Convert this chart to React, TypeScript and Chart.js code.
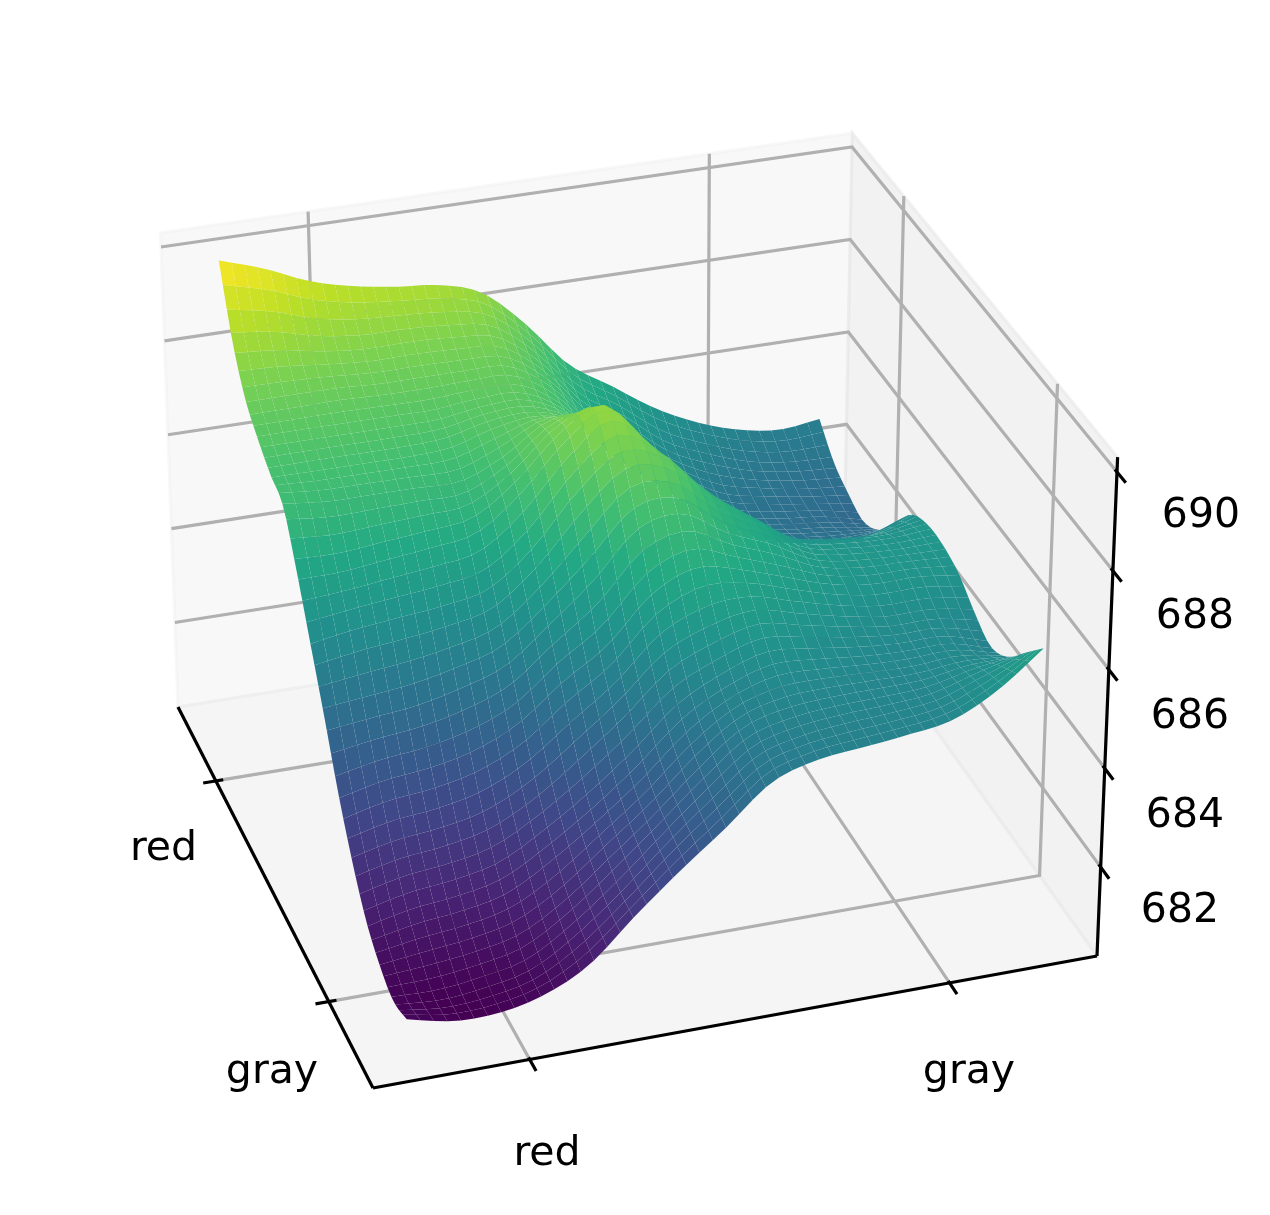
import React, { useEffect, useRef } from "react";
import { Chart, registerables } from "chart.js";

Chart.register(...registerables);

// ---- data ----
const categories = ["red", "gray"];
const zTicks = [682, 684, 686, 688, 690];
const meshStart = -0.25; // category units: red = 0, gray = 1
const meshEnd = 1.25;

// z values: one row per step along the first category axis, one column per step along the second
const zRow00 = [690.0, 689.7, 689.3, 689.05, 688.9, 688.8, 688.5, 687.7, 686.7, 686.1, 685.5, 685.05, 684.75, 684.6, 684.7];
const zRow01 = [688.7, 688.6, 688.4, 688.3, 688.3, 688.25, 688.1, 687.4, 686.4, 685.8, 685.1, 684.7, 684.4, 684.25, 684.2];
const zRow02 = [687.9, 687.9, 687.9, 687.85, 687.85, 687.85, 687.8, 687.2, 686.2, 685.5, 684.9, 684.4, 684.2, 684.05, 683.95];
const zRow03 = [687.5, 687.5, 687.5, 687.5, 687.5, 687.6, 687.6, 687.1, 686.1, 685.4, 684.8, 684.3, 684.1, 684.0, 683.8];
const zRow04 = [687.2, 687.2, 687.2, 687.2, 687.25, 687.5, 687.6, 687.3, 686.4, 685.6, 684.9, 684.4, 684.2, 684.1, 684.05];
const zRow05 = [687.0, 686.9, 686.9, 686.9, 686.9, 687.3, 687.9, 687.9, 687.0, 686.0, 685.3, 684.7, 684.5, 684.4, 684.6];
const zRow06 = [686.1, 686.1, 686.2, 686.3, 686.45, 687.1, 688.0, 688.5, 687.5, 686.6, 685.8, 685.2, 685.0, 684.95, 685.25];
const zRow07 = [685.05, 685.2, 685.3, 685.4, 685.6, 686.3, 687.3, 688.0, 687.7, 686.8, 686.2, 685.6, 685.45, 685.4, 685.5];
const zRow08 = [684.0, 684.1, 684.2, 684.4, 684.7, 685.4, 686.2, 687.1, 687.2, 686.6, 686.2, 685.7, 685.55, 685.5, 685.5];
const zRow09 = [682.9, 683.1, 683.2, 683.4, 683.8, 684.5, 685.1, 686.0, 686.4, 686.2, 685.9, 685.6, 685.45, 685.45, 685.35];
const zRow10 = [682.0, 682.2, 682.3, 682.5, 682.95, 683.6, 684.3, 685.1, 685.5, 685.7, 685.5, 685.3, 685.15, 685.15, 685.0];
const zRow11 = [681.3, 681.5, 681.6, 681.8, 682.3, 682.9, 683.6, 684.4, 684.9, 685.2, 685.15, 685.05, 685.0, 685.0, 684.75];
const zRow12 = [680.9, 681.0, 681.1, 681.3, 681.8, 682.5, 683.2, 684.0, 684.65, 684.9, 684.95, 684.95, 684.95, 685.05, 685.0];
const zRow13 = [680.7, 680.65, 680.75, 680.95, 681.5, 682.2, 683.0, 683.75, 684.45, 684.7, 684.8, 684.85, 684.95, 685.25, 685.55];
const zRow14 = [680.85, 680.65, 680.65, 680.85, 681.3, 682.1, 682.85, 683.55, 684.3, 684.6, 684.7, 684.8, 684.95, 685.4, 686.1];
const zRows = [zRow00, zRow01, zRow02, zRow03, zRow04, zRow05, zRow06, zRow07, zRow08, zRow09, zRow10, zRow11, zRow12, zRow13, zRow14];

const viridis = ["#440154", "#482475", "#414487", "#355f8d", "#2a788e", "#21918c", "#22a884", "#44bf70", "#7ad151", "#bddf26", "#fde725"];

// ---- view of the box ----
const W = 1270;
const H = 1215;
const axisLo = -0.362;
const axisHi = 1.362;
const zFloor = 680.2;
const zGrid = 690;
const zPaneTop = 690.3;
const meshCells = 48;

type Pt = [number, number];
const floorQuad: Pt[] = [[178, 707], [373, 1088], [1097, 956], [843, 600]];
const topQuad: Pt[] = [[161, 247], [360, 590], [1117, 472], [852, 147]];

function homography(q: Pt[]) {
  const [[x0, y0], [x1, y1], [x2, y2], [x3, y3]] = q;
  const dx1 = x1 - x2, dx2 = x3 - x2, sx = x0 - x1 + x2 - x3;
  const dy1 = y1 - y2, dy2 = y3 - y2, sy = y0 - y1 + y2 - y3;
  const den = dx1 * dy2 - dx2 * dy1;
  const g = (sx * dy2 - dx2 * sy) / den;
  const h = (dx1 * sy - sx * dy1) / den;
  const a = x1 - x0 + g * x1, b = x3 - x0 + h * x3;
  const d = y1 - y0 + g * y1, e = y3 - y0 + h * y3;
  return (u: number, v: number): Pt => {
    const w = g * u + h * v + 1;
    return [(a * u + b * v + x0) / w, (d * u + e * v + y0) / w];
  };
}
const floorMap = homography(floorQuad);
const topMap = homography(topQuad);

// u, v: box fractions; z: data value
function project(u: number, v: number, z: number) {
  const t = (z - zFloor) / (zGrid - zFloor);
  const f = floorMap(u, v);
  const p = topMap(u, v);
  return { x: f[0] + (p[0] - f[0]) * t, y: f[1] + (p[1] - f[1]) * t };
}
const frac = (c: number) => (c - axisLo) / (axisHi - axisLo);

function colorFor(z: number, lo: number, hi: number) {
  const s = Math.max(0, Math.min(1, (z - lo) / (hi - lo))) * (viridis.length - 1);
  const i = Math.min(viridis.length - 2, Math.floor(s));
  const f = s - i;
  const c = (h: string, o: number) => parseInt(h.slice(o, o + 2), 16);
  const mix = (o: number) => Math.round(c(viridis[i], o) * (1 - f) + c(viridis[i + 1], o) * f);
  return `rgb(${mix(1)},${mix(3)},${mix(5)})`;
}

// smooth patch between table values (drawing only, like a line's tension)
function cr(p0: number, p1: number, p2: number, p3: number, t: number) {
  return 0.5 * (2 * p1 + (p2 - p0) * t + (2 * p0 - 5 * p1 + 4 * p2 - p3) * t * t + (3 * p1 - p0 - 3 * p2 + p3) * t * t * t);
}
function sample(r: number, c: number) {
  const n = zRows.length - 1;
  const m = zRows[0].length - 1;
  const at = (i: number, j: number) => {
    const ii = Math.max(0, Math.min(n, i));
    const jj = Math.max(0, Math.min(m, j));
    const ex = i < 0 ? zRows[0][jj] - zRows[1][jj] : i > n ? zRows[n][jj] - zRows[n - 1][jj] : 0;
    const ey = j < 0 ? zRows[ii][0] - zRows[ii][1] : j > m ? zRows[ii][m] - zRows[ii][m - 1] : 0;
    return zRows[ii][jj] + ex + ey;
  };
  const i = Math.min(n - 1, Math.floor(r));
  const j = Math.min(m - 1, Math.floor(c));
  const tr = r - i, tc = c - j;
  const col = [-1, 0, 1, 2].map((k) => cr(at(i + k, j - 1), at(i + k, j), at(i + k, j + 1), at(i + k, j + 2), tc));
  return cr(col[0], col[1], col[2], col[3], tr);
}

function buildSurface() {
  const pts: { x: number; y: number }[] = [];
  const zs: number[] = [];
  const n = meshCells;
  for (let i = 0; i <= n; i++) {
    for (let j = 0; j <= n; j++) {
      const z = sample((i / n) * (zRows.length - 1), (j / n) * (zRows[0].length - 1));
      const u = frac(meshStart + ((meshEnd - meshStart) * i) / n);
      const v = frac(meshStart + ((meshEnd - meshStart) * j) / n);
      pts.push(project(u, v, z));
      zs.push(z);
    }
  }
  return { pts, zs };
}

const lineSet = (data: { x: number; y: number }[], color: string, order: number, width = 3.2) => ({
  data,
  showLine: true,
  borderColor: color,
  backgroundColor: color,
  borderWidth: width,
  pointRadius: 0,
  order,
  clip: false,
  borderCapStyle: "butt" as const,
  borderJoinStyle: "miter" as const,
});

const GRID = "#b0b0b0";
const INK = "#000000";

function buildLines() {
  const out: any[] = [];
  const uTicks = categories.map((_, i) => frac(i));
  const vTicks = categories.map((_, i) => frac(i));
  const seg = (a: number[], b: number[]) => [project(a[0], a[1], a[2]), project(b[0], b[1], b[2])];
  for (const z of zTicks) {
    out.push(lineSet([project(1, 1, z), project(0, 1, z), project(0, 0, z)], GRID, 5));
    out.push(lineSet(seg([0.993, 1, z], [1.03, 1, z]), INK, 1));
  }
  for (const u of uTicks) {
    out.push(lineSet([project(u, 0, zFloor), project(u, 1, zFloor), project(u, 1, zPaneTop)], GRID, 5));
    out.push(lineSet(seg([u, -0.018, zFloor], [u, 0.0105, zFloor]), INK, 1));
  }
  for (const v of vTicks) {
    out.push(lineSet([project(1, v, zFloor), project(0, v, zFloor), project(0, v, zPaneTop)], GRID, 5));
    out.push(lineSet(seg([0.995, v, zFloor], [1.028, v, zFloor]), INK, 1));
  }
  out.push(lineSet(seg([0, 0, zFloor], [1, 0, zFloor]), INK, 1));
  out.push(lineSet(seg([1, 0, zFloor], [1, 1, zFloor]), INK, 1));
  out.push(lineSet(seg([1, 1, zFloor], [1, 1, zPaneTop]), INK, 1));
  return out;
}

const labelFont = '41px "DejaVu Sans"';
// label anchors in the page plane: [text, centre x, baseline y]
const axisLabels: [string, number, number][] = [
  [categories[0], 163.5, 860],
  [categories[1], 272, 1083],
  [categories[0], 547, 1165],
  [categories[1], 969, 1083],
  [String(zTicks[4]), 1201, 527],
  [String(zTicks[3]), 1195, 628],
  [String(zTicks[2]), 1190, 728],
  [String(zTicks[1]), 1185, 827],
  [String(zTicks[0]), 1180, 922],
];

export default function App() {
  const ref = useRef<HTMLCanvasElement | null>(null);
  useEffect(() => {
    if (!ref.current) return;
    const { pts, zs } = buildSurface();
    const zLo = Math.min(...zs);
    const zHi = Math.max(...zs);

    const panes = {
      id: "panes",
      beforeDatasetsDraw(chart: any) {
        const { ctx, scales } = chart;
        const sx = (p: { x: number; y: number }) => [scales.x.getPixelForValue(p.x), scales.y.getPixelForValue(p.y)];
        const poly = (corners: number[][], fill: string) => {
          ctx.save();
          ctx.beginPath();
          corners.forEach((c, i) => {
            const [x, y] = sx(project(c[0], c[1], c[2]));
            if (i) ctx.lineTo(x, y);
            else ctx.moveTo(x, y);
          });
          ctx.closePath();
          ctx.fillStyle = fill;
          ctx.fill();
          ctx.strokeStyle = fill;
          ctx.lineWidth = 3.2;
          ctx.stroke();
          ctx.restore();
        };
        poly([[0, 0, zFloor], [0, 1, zFloor], [0, 1, zPaneTop], [0, 0, zPaneTop]], "rgba(242,242,242,0.5)");
        poly([[0, 1, zFloor], [1, 1, zFloor], [1, 1, zPaneTop], [0, 1, zPaneTop]], "rgba(230,230,230,0.5)");
        poly([[0, 0, zFloor], [1, 0, zFloor], [1, 1, zFloor], [0, 1, zFloor]], "rgba(236,236,236,0.5)");
      },
      beforeDatasetDraw(chart: any, args: any) {
        if (args.meta.label !== "surface") return;
        const { ctx } = chart;
        const el = args.meta.data;
        const n = meshCells + 1;
        // far rows first, far columns first
        for (let i = 0; i < meshCells; i++) {
          for (let j = meshCells - 1; j >= 0; j--) {
            const a = i * n + j, b = i * n + j + 1, c = (i + 1) * n + j + 1, d = (i + 1) * n + j;
            ctx.beginPath();
            ctx.moveTo(el[a].x, el[a].y);
            ctx.lineTo(el[b].x, el[b].y);
            ctx.lineTo(el[c].x, el[c].y);
            ctx.lineTo(el[d].x, el[d].y);
            ctx.closePath();
            ctx.fillStyle = colorFor((zs[a] + zs[b] + zs[c] + zs[d]) / 4, zLo, zHi);
            ctx.fill();
          }
        }
      },
      afterDraw(chart: any) {
        const { ctx, scales } = chart;
        ctx.save();
        ctx.font = labelFont;
        ctx.fillStyle = "#000";
        ctx.textAlign = "center";
        ctx.textBaseline = "alphabetic";
        for (const [t, x, y] of axisLabels) ctx.fillText(t, scales.x.getPixelForValue(x), scales.y.getPixelForValue(y));
        ctx.restore();
      },
    };

    const chart = new Chart(ref.current, {
      type: "scatter",
      data: {
        datasets: [
          ...buildLines(),
          { label: "surface", data: pts, pointRadius: 0, showLine: false, order: 3, clip: false },
        ],
      },
      options: {
        responsive: false,
        animation: false,
        events: [],
        layout: { padding: 0 },
        plugins: { legend: { display: false }, tooltip: { enabled: false } },
        scales: {
          x: { type: "linear", min: 0, max: W, display: false },
          y: { type: "linear", min: 0, max: H, reverse: true, display: false },
        },
      },
      plugins: [panes],
    } as any);
    return () => chart.destroy();
  }, []);

  return (
    <div style={{ position: "absolute", left: 0, top: 0, width: W, height: H, background: "#fff" }}>
      <canvas ref={ref} width={W} height={H} style={{ display: "block" }} />
    </div>
  );
}
